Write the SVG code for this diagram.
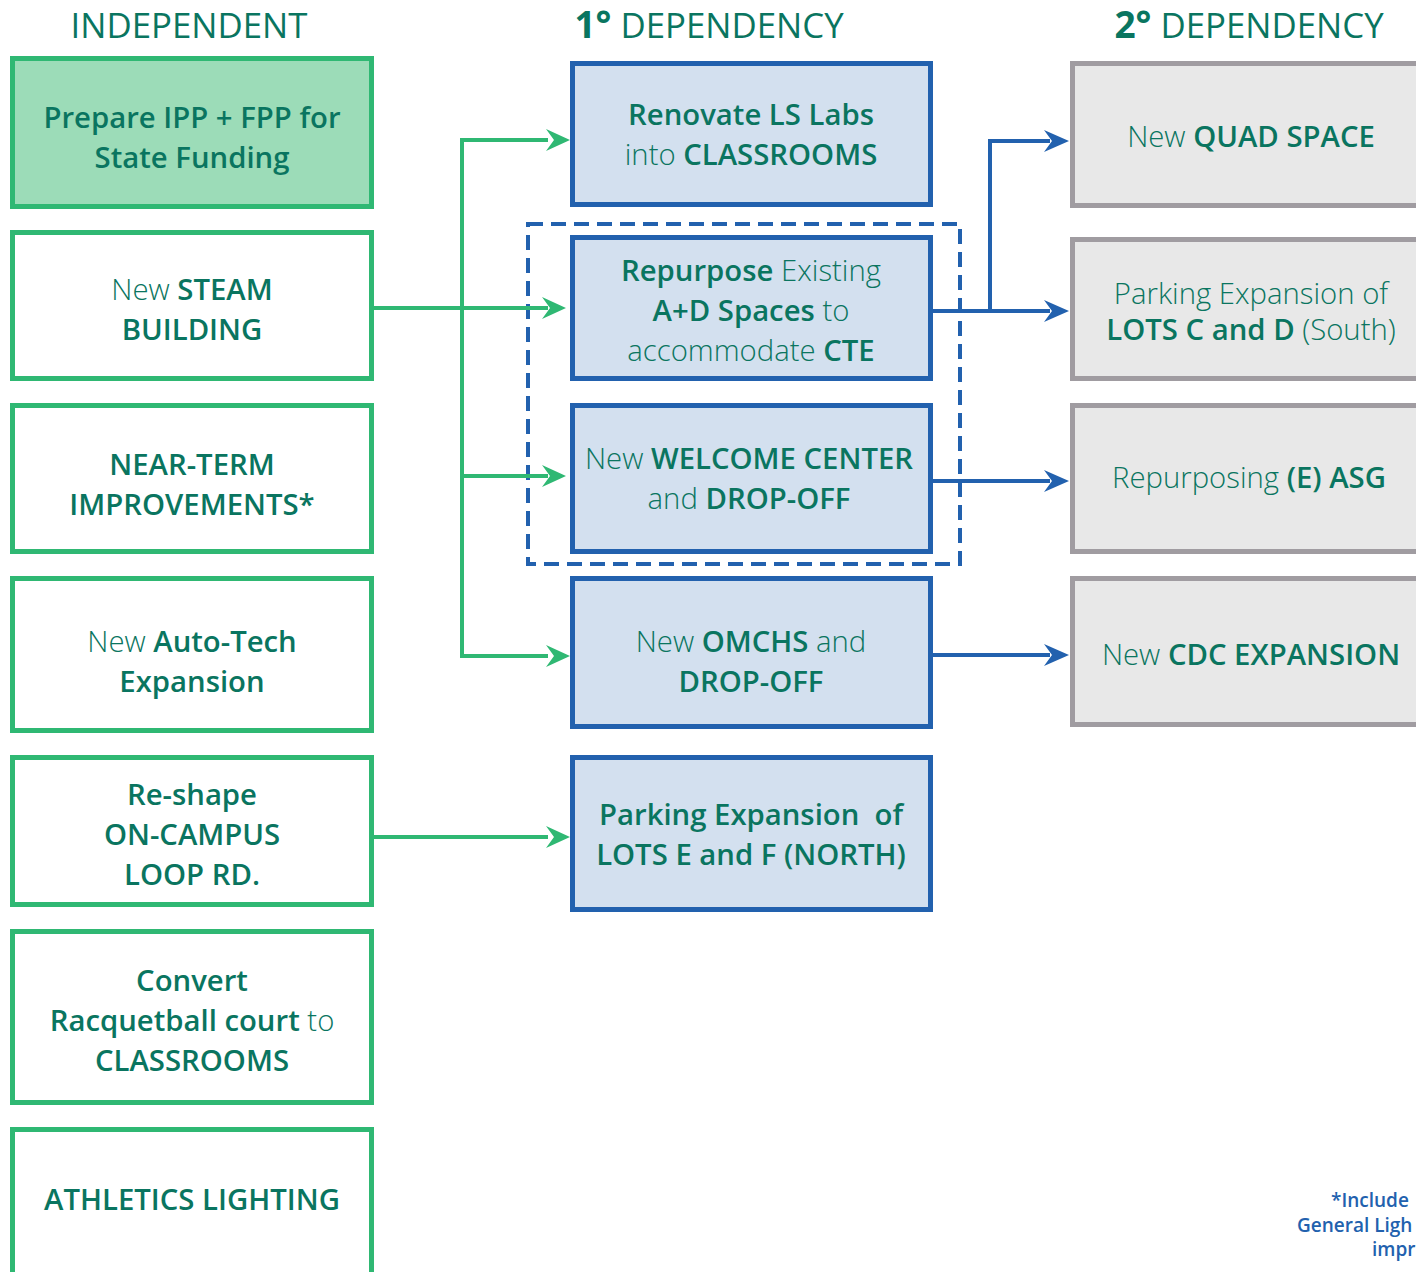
<svg xmlns="http://www.w3.org/2000/svg" width="1416" height="1272" viewBox="0 0 1416 1272">
<defs>
<style>
text{font-family:"Open Sans","Noto Sans","Liberation Sans",sans-serif;fill:#0a7560;text-anchor:middle}
.t{font-size:29.3px;font-weight:300}
.b{font-weight:600}
.h{font-size:34.8px;font-weight:400}
.g{fill:#ffffff;stroke:#2fb873;stroke-width:5}
.g1{fill:#9cdcb8;stroke:#2fb873;stroke-width:5}
.bl{fill:#d3e0ef;stroke:#2261ae;stroke-width:5}
.gr{fill:#e8e8e8;stroke:#a09ca1;stroke-width:5}
.cg{fill:none;stroke:#2fb873;stroke-width:4}
.cb{fill:none;stroke:#2261ae;stroke-width:4}
.fn{font-size:19px;font-weight:600;fill:#2261ae;text-anchor:start}
</style>
</defs>
<rect width="1416" height="1272" fill="#ffffff"/>

<g id="headers">
<text class="h" x="189" y="38">INDEPENDENT</text>
<text class="h" x="709" y="38"><tspan font-weight="700" font-size="37">1°</tspan> DEPENDENCY</text>
<text class="h" x="1249" y="38"><tspan font-weight="700" font-size="37">2°</tspan> DEPENDENCY</text>
</g>

<g id="group-dashed"><rect x="528" y="224" width="432" height="340" fill="none" stroke="#2261ae" stroke-width="4" stroke-dasharray="15,8"/></g>

<g id="connectors">
<path class="cg" d="M372,308 H548"/>
<path class="cg" d="M548,140 H462 V656 H548"/>
<path class="cg" d="M462,476 H548"/>
<path class="cg" d="M372,837 H548"/>
<path fill="#2fb873" d="M546,129 L570,140 L546,151 L554,140 Z"/>
<path fill="#2fb873" d="M542,297 L566,308 L542,319 L550,308 Z"/>
<path fill="#2fb873" d="M542,465 L566,476 L542,487 L550,476 Z"/>
<path fill="#2fb873" d="M546,645 L570,656 L546,667 L554,656 Z"/>
<path fill="#2fb873" d="M546,826 L570,837 L546,848 L554,837 Z"/>
<path class="cb" d="M931,311 H1050"/>
<path class="cb" d="M990,311 V141 H1050"/>
<path class="cb" d="M931,481 H1050"/>
<path class="cb" d="M931,655 H1050"/>
<path fill="#2261ae" d="M1044,130 L1069,141 L1044,152 L1052,141 Z"/>
<path fill="#2261ae" d="M1044,300 L1069,311 L1044,322 L1052,311 Z"/>
<path fill="#2261ae" d="M1044,470 L1069,481 L1044,492 L1052,481 Z"/>
<path fill="#2261ae" d="M1044,644 L1069,655 L1044,666 L1052,655 Z"/>
</g>

<g id="n1"><rect class="g1" x="12.5" y="58.5" width="359" height="148"/>
<text class="t b" x="192" y="128">Prepare IPP + FPP for</text>
<text class="t b" x="192" y="168">State Funding</text></g>
<g id="n2"><rect class="g" x="12.5" y="232.5" width="359" height="146"/>
<text class="t" x="192" y="300">New <tspan class="b">STEAM</tspan></text>
<text class="t b" x="192" y="340">BUILDING</text></g>
<g id="n3"><rect class="g" x="12.5" y="405.5" width="359" height="146"/>
<text class="t b" x="192" y="475">NEAR-TERM</text>
<text class="t b" x="192" y="515">IMPROVEMENTS*</text></g>
<g id="n4"><rect class="g" x="12.5" y="578.5" width="359" height="152"/>
<text class="t" x="192" y="652">New <tspan class="b">Auto-Tech</tspan></text>
<text class="t b" x="192" y="692">Expansion</text></g>
<g id="n5"><rect class="g" x="12.5" y="757.5" width="359" height="147"/>
<text class="t b" x="192" y="805">Re-shape</text>
<text class="t b" x="192" y="845">ON-CAMPUS</text>
<text class="t b" x="192" y="885">LOOP RD.</text></g>
<g id="n6"><rect class="g" x="12.5" y="931.5" width="359" height="171"/>
<text class="t b" x="192" y="991">Convert</text>
<text class="t" x="192" y="1031"><tspan class="b">Racquetball court</tspan> to</text>
<text class="t b" x="192" y="1071">CLASSROOMS</text></g>
<g id="n7"><rect class="g" x="12.5" y="1129.5" width="359" height="160"/>
<text class="t b" x="192" y="1210">ATHLETICS LIGHTING</text></g>

<g id="m1"><rect class="bl" x="572.5" y="63.5" width="358" height="141"/>
<text class="t b" x="751" y="125">Renovate LS Labs</text>
<text class="t" x="751" y="165">into <tspan class="b">CLASSROOMS</tspan></text></g>
<g id="m2"><rect class="bl" x="572.5" y="237.5" width="358" height="141"/>
<text class="t" x="751" y="281"><tspan class="b">Repurpose</tspan> Existing</text>
<text class="t" x="751" y="321"><tspan class="b">A+D Spaces</tspan> to</text>
<text class="t" x="751" y="361">accommodate <tspan class="b">CTE</tspan></text></g>
<g id="m3"><rect class="bl" x="572.5" y="405.5" width="358" height="146"/>
<text class="t" x="749" y="469">New <tspan class="b">WELCOME CENTER</tspan></text>
<text class="t" x="749" y="509">and <tspan class="b">DROP-OFF</tspan></text></g>
<g id="m4"><rect class="bl" x="572.5" y="578.5" width="358" height="148"/>
<text class="t" x="751" y="652">New <tspan class="b">OMCHS</tspan> and</text>
<text class="t b" x="751" y="692">DROP-OFF</text></g>
<g id="m5"><rect class="bl" x="572.5" y="757.5" width="358" height="152"/>
<text class="t b" x="751" y="825" xml:space="preserve">Parking Expansion  of</text>
<text class="t b" x="751" y="865">LOTS E and F (NORTH)</text></g>

<g id="r1"><rect class="gr" x="1072.5" y="63.5" width="360" height="142"/>
<text class="t" x="1251" y="147">New <tspan class="b">QUAD SPACE</tspan></text></g>
<g id="r2"><rect class="gr" x="1072.5" y="239.5" width="360" height="139"/>
<text class="t" x="1251" y="304">Parking Expansion of</text>
<text class="t" x="1251" y="340"><tspan class="b">LOTS C and D</tspan> (South)</text></g>
<g id="r3"><rect class="gr" x="1072.5" y="405.5" width="360" height="146"/>
<text class="t" x="1249" y="488">Repurposing <tspan class="b">(E) ASG</tspan></text></g>
<g id="r4"><rect class="gr" x="1072.5" y="578.5" width="360" height="146"/>
<text class="t" x="1251" y="665">New <tspan class="b">CDC EXPANSION</tspan></text></g>

<g id="footnote">
<text class="fn" x="1331" y="1207">*Include</text>
<text class="fn" x="1297" y="1232">General Ligh</text>
<text class="fn" x="1372" y="1256">impr</text>
</g>
</svg>
